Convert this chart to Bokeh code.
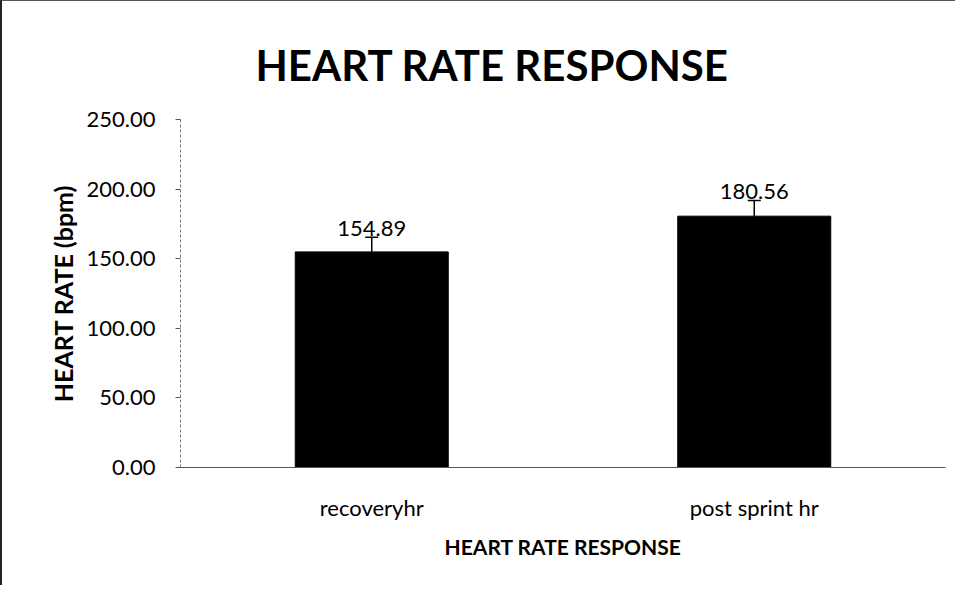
from bokeh.plotting import figure
from bokeh.models import ColumnDataSource, Range1d, FactorRange, Whisker, TeeHead, Title, FixedTicker, NumeralTickFormatter
from bokeh.embed import file_html
from bokeh.resources import INLINE
from bokeh.core.properties import value

categories = ["recoveryhr", "post sprint hr"]
means = [154.89, 180.56]
errors = [10.5, 11.3]
label_texts = ["154.89", "180.56"]
y_ticks = [0, 50, 100, 150, 200, 250]

upper = [m + e for m, e in zip(means, errors)]
lower = [m - e for m, e in zip(means, errors)]
src = ColumnDataSource(dict(cat=categories, mean=means, upper=upper, lower=lower, txt=label_texts))

FONT = "Lato"

p = figure(width=955, height=585, output_backend="svg", toolbar_location=None,
           x_range=FactorRange(*categories, range_padding=0), y_range=Range1d(0, 250),
           min_border_left=178, min_border_right=12, min_border_top=118, min_border_bottom=119)
p.styles = {"border-left": "2px solid #222", "border-top": "1px solid #555"}

p.title.text = ""
t = Title(text="HEART RATE RESPONSE", align="left", offset=75, text_font=FONT,
          text_font_size="42px", text_font_style="bold", text_color="#000000", standoff=59)
p.add_layout(t, "above")

p.vbar(x="cat", top="mean", width=0.40, source=src, fill_color="#000000", line_color="#000000")

w = Whisker(source=src, base="cat", upper="upper", lower="lower", line_color="#000000", line_width=1.5,
            upper_head=TeeHead(size=13, line_color="#000000", line_width=1.5),
            lower_head=TeeHead(size=13, line_color="#555555", line_width=1))
p.add_layout(w)

p.text(x="cat", y="upper", text="txt", source=src, text_align="center", text_baseline="alphabetic",
       y_offset=-9, text_font=value(FONT), text_font_size="22px", text_color="#000000")

p.grid.visible = False
p.outline_line_color = None
p.background_fill_color = "white"
p.border_fill_color = "white"

ya = p.yaxis[0]
ya.ticker = FixedTicker(ticks=y_ticks)
ya.formatter = NumeralTickFormatter(format="0.00")
ya.axis_label = "HEART RATE (bpm)"
ya.axis_label_text_font = FONT
ya.axis_label_text_font_size = "25px"
ya.axis_label_text_font_style = "bold"
ya.axis_label_text_color = "#000000"
ya.axis_label_standoff = 6
ya.major_label_text_font = FONT
ya.major_label_text_font_size = "22px"
ya.major_label_text_color = "#000000"
ya.major_label_standoff = 20
ya.axis_line_color = "#777777"
ya.axis_line_dash = "3 2"
ya.major_tick_line_color = "#555555"
ya.major_tick_out = 5
ya.major_tick_in = 0
ya.minor_tick_line_color = None

xa = p.xaxis[0]
xa.axis_label = "HEART RATE RESPONSE"
xa.axis_label_text_font = FONT
xa.axis_label_text_font_size = "21px"
xa.axis_label_text_font_style = "bold"
xa.axis_label_text_color = "#000000"
xa.axis_label_standoff = 10
xa.major_label_text_font = FONT
xa.major_label_text_font_size = "22px"
xa.major_label_text_color = "#000000"
xa.major_label_standoff = 20
xa.axis_line_color = "#555555"
xa.major_tick_line_color = None
xa.minor_tick_line_color = None

open("out.html", "w").write(file_html(p, INLINE))
